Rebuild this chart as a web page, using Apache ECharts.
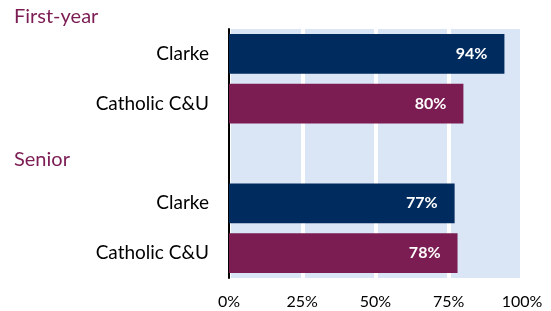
<!DOCTYPE html>
<html style="height: 100%">
<head>
    <meta charset="utf-8">
</head>
<body style="height: 100%; margin: 0">
<div id="container" style="width: 551px; height: 311px"></div>
<script src="https://cdn.jsdelivr.net/npm/echarts@6/dist/echarts.min.js"></script>
<script type="text/javascript">
    var groups = ['First-year', 'Senior'];
    var schools = ['Clarke', 'Catholic C&U'];
    var firstYear = [94, 80];
    var senior = [77, 78];
    var ticks = [0, 25, 50, 75, 100];

    var schoolColors = ['#002B5E', '#7B1C52'];
    var font = 'Lato';

    // rows: first-year schools, a gap row for the "Senior" header, senior schools
    var cats = [];
    var values = [];
    schools.forEach(function (s, i) {
        cats.push('fy|' + s);
        values.push({ value: firstYear[i], itemStyle: { color: schoolColors[i] } });
    });
    cats.push('gap');
    values.push('-');
    schools.forEach(function (s, i) {
        cats.push('sr|' + s);
        values.push({ value: senior[i], itemStyle: { color: schoolColors[i] } });
    });

    var dom = document.getElementById('container');
    var myChart = echarts.init(dom);

    var option = {
        animation: false,
        grid: {
            left: 229, right: 29, top: 29, bottom: 33,
            show: true, backgroundColor: '#DAE5F6', borderWidth: 0
        },
        xAxis: {
            type: 'value',
            min: ticks[0], max: ticks[ticks.length - 1], interval: 25,
            axisLine: { show: false },
            axisTick: { show: false },
            splitLine: { lineStyle: { color: '#fff', width: 4 } },
            axisLabel: { formatter: '{value}%', color: '#000', fontSize: 16, fontFamily: font, margin: 16 }
        },
        yAxis: {
            type: 'category',
            inverse: true,
            data: cats,
            axisLine: { lineStyle: { color: '#000', width: 2 } },
            axisTick: { show: false },
            axisLabel: {
                color: '#000', fontSize: 19, fontFamily: font, margin: 20,
                formatter: function (v) { return v === 'gap' ? '' : v.split('|')[1]; }
            }
        },
        series: [{
            type: 'bar',
            data: values,
            barCategoryGap: '20%',
            label: {
                show: true,
                position: 'insideRight',
                distance: 17,
                formatter: '{c}%',
                color: '#fff',
                fontWeight: 'bold',
                fontSize: 16,
                fontFamily: font
            }
        }]
    };
    myChart.setOption(option);

    var seniorY = myChart.convertToPixel({ yAxisIndex: 0 }, 2);
    myChart.setOption({
        graphic: [
            { type: 'text', left: 14, top: 7, style: { text: groups[0], fill: '#7B1C52', fontSize: 20, fontFamily: font } },
            { type: 'text', left: 14, top: seniorY - 4, style: { text: groups[1], fill: '#7B1C52', fontSize: 20, fontFamily: font } }
        ]
    });
</script>
</body>
</html>
